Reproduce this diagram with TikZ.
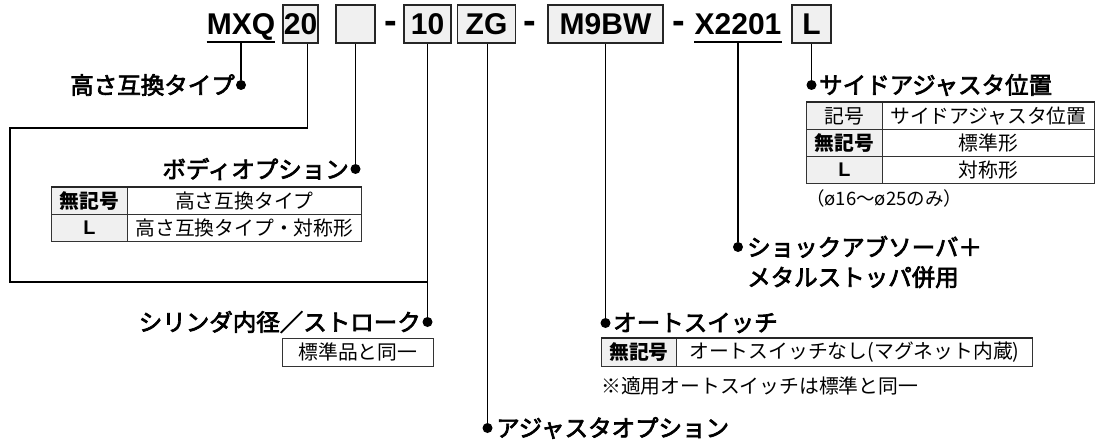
\documentclass[tikz,border=0pt]{standalone}
\usepackage{fontspec}
\setmainfont{Liberation Sans}
\newfontfamily\jp{Noto Sans CJK JP}
\newfontfamily\jpm{Noto Sans CJK JP}[FakeBold=3]
\newcommand\hdfont{\bfseries\fontsize{30}{30}\selectfont}
\begin{document}
\begin{tikzpicture}[x=1pt,y=-1pt,
  hbox/.style={draw=black!85, line width=1.6pt, fill=gray!12, minimum height=38pt, inner sep=0pt, font=\hdfont},
  htext/.style={inner sep=0pt, font=\hdfont, anchor=base},
  hdash/.style={inner sep=0pt, font=\bfseries\fontsize{38}{38}\selectfont, anchor=base},
  dot/.style={circle, fill=black, inner sep=0pt, minimum size=10pt},
  conn/.style={line width=1.8pt, black},
  lbl/.style={font=\jpm\fontsize{23.5}{30}\selectfont, inner sep=0pt},
  cell/.style={draw=black!80, line width=0.8pt, minimum height=27pt, inner sep=0pt, anchor=north west, font=\jp\fontsize{19.8}{20}\selectfont},
  gcell/.style={cell, fill=gray!12},
  note/.style={font=\jp\fontsize{19.8}{20}\selectfont, inner sep=0pt}
]
\useasboundingbox (0,0) rectangle (1099,441);

% header
\node[htext] (mxq) at (241,35) {MXQ};
\draw[line width=1.6pt] ([yshift=-7pt]mxq.base west) -- ([yshift=-7pt]mxq.base east);
\node[hbox, minimum width=35pt] (b20) at (300.5,24) {20};
\node[hbox, minimum width=39pt] (bopt) at (355.5,24) {};
\node[hdash] (m1) at (391,33.5) {-};
\node[hbox, minimum width=47pt] (b10) at (427.5,24) {10};
\node[hbox, minimum width=58pt] (bzg) at (486.5,24) {ZG};
\node[hdash] (m2) at (530,33.5) {-};
\node[hbox, minimum width=115pt] (bm9) at (605.5,24) {M9BW};
\node[hdash] (m3) at (678.5,33.5) {-};
\node[htext] (x22) at (738,35) {X2201};
\draw[line width=1.6pt] ([yshift=-7pt]x22.base west) -- ([yshift=-7pt]x22.base east);
\node[hbox, minimum width=39pt] (bl) at (811.5,24) {L};

% dots
\node[dot] (d1) at (241,85) {};
\node[dot] (dopt) at (355.5,169) {};
\node[dot] (d10) at (427.5,322) {};
\node[dot] (dzg) at (487.5,428) {};
\node[dot] (dm9) at (605.5,323) {};
\node[dot] (dx) at (738,247) {};
\node[dot] (dl) at (811.5,85) {};

% connectors
\draw[conn] ([yshift=-7pt]mxq.base) -- (d1);
\draw[conn] ([xshift=7pt]b20.south) |- (10,128) |- (d10 |- 0,282);
\draw[conn] (bopt.south) -- (dopt);
\draw[conn] (b10.south) -- (d10);
\draw[conn] (bzg.south -| dzg) -- (dzg);
\draw[conn] (bm9.south) -- (dm9);
\draw[conn] ([yshift=-7pt]x22.base) -- (dx);
\draw[conn] (bl.south) -- (dl);

% labels
\node[lbl, anchor=east] (l1) at (235,85) {高さ互換タイプ};
\node[lbl, anchor=east] (lopt) at (349,169) {ボディオプション};
\node[lbl, anchor=east] (l10) at (421,322) {シリンダ内径／ストローク};
\node[lbl, anchor=west] (lzg) at (496,428) {アジャスタオプション};
\node[lbl, anchor=west] (lm9) at (613,323) {オートスイッチ};
\node[lbl, anchor=west, align=left] (lx) at (747,262) {ショックアブソーバ＋\\メタルストッパ併用};
\node[lbl, anchor=west] (ll) at (819,85) {サイドアジャスタ位置};

% body option table
\node[gcell, minimum width=76pt] (o11) at (51,187) {\bfseries 無記号};
\node[cell, minimum width=234pt] (o12) at (127,187) {高さ互換タイプ};
\node[gcell, minimum width=76pt] (o21) at (51,214) {\rmfamily\bfseries L};
\node[cell, minimum width=234pt] (o22) at (127,214) {高さ互換タイプ・対称形};
\draw[line width=2pt, black!85] (o11.north west) -- (o12.north east);

% stroke box
\node[cell, minimum width=151pt, minimum height=28pt] (s1) at (282,338) {標準品と同一};

% auto switch table
\node[gcell, minimum width=75pt, minimum height=28pt] (a11) at (601,338) {\bfseries 無記号};
\node[cell, minimum width=356pt, minimum height=28pt] (a12) at (676,338) {オートスイッチなし(マグネット内蔵)};
\draw[line width=2pt, black!85] (a11.north west) -- (a12.north east);
\node[note, anchor=west] (n2) at (601,386) {※適用オートスイッチは標準と同一};

% side adjuster table
\node[gcell, minimum width=76pt] (t11) at (806,102) {記号};
\node[cell, minimum width=212pt] (t12) at (882,102) {サイドアジャスタ位置};
\node[gcell, minimum width=76pt] (t21) at (806,129) {\bfseries 無記号};
\node[cell, minimum width=212pt] (t22) at (882,129) {標準形};
\node[gcell, minimum width=76pt] (t31) at (806,156) {\rmfamily\bfseries L};
\node[cell, minimum width=212pt] (t32) at (882,156) {対称形};
\draw[line width=2pt, black!85] (t11.north west) -- (t12.north east);
\node[note, anchor=west, font=\jp\fontsize{18.5}{20}\selectfont] (n1) at (806,198) {（ø16〜ø25のみ）};
\end{tikzpicture}
\end{document}
